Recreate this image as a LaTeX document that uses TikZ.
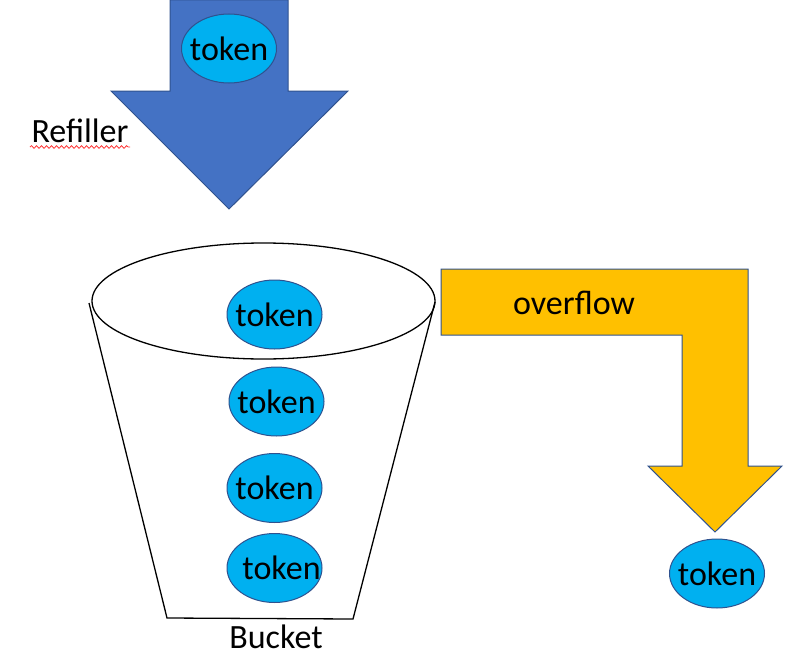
\documentclass[tikz,border=0pt]{standalone}
\usepackage{fontspec}
\setmainfont{Carlito}
\usetikzlibrary{positioning, shapes.geometric, decorations.pathmorphing}
\definecolor{refillblue}{HTML}{4472C4}
\definecolor{edgeblue}{HTML}{2F528F}
\definecolor{tokenblue}{HTML}{00B0F0}
\definecolor{overflowgold}{HTML}{FFC000}
\newcommand{\tokentext}[1][0pt]{\makebox[0pt]{\kern#1 token}}
\tikzset{
    token/.style={ellipse, draw=edgeblue, fill=tokenblue, line width=1pt, minimum width=95pt, minimum height=69pt, inner sep=0pt, font=\fontsize{34}{40}\selectfont}, % the blue tokens
    plain/.style={inner sep=0pt, font=\fontsize{34}{40}\selectfont},
    blockarrow/.style={draw=edgeblue, line width=1pt, line join=miter},
}

\begin{document}
\begin{tikzpicture}[x=1pt, y=-1pt, on grid]
    \useasboundingbox (0,0) rectangle (800,669);

    % Refiller
    \fill[refillblue, blockarrow] (170,0) -- (288,0) -- (288,91) -- (348,91) -- (229,209) -- (111,91) -- (170,91) -- cycle;
    \node[token] (tin) at (229,48.5) {\tokentext};
    \node[plain] (refill) at (80,131) {Refiller};
    \draw[red!80, line width=0.8pt, decorate, decoration={snake, amplitude=1.3pt, segment length=5pt}] (30,147) -- (130,147);

    % Bucket
    \draw[line width=1.3pt] (263.5,301) ellipse [x radius=171.5, y radius=58];
    \draw[line width=1.3pt] (89,303) -- (167,618) -- (353,619) -- (435,302);
    \node[token] (t1) at (274.5,314.5) {\tokentext};
    \node[token] (t2) [below=87pt of t1, xshift=2pt] {\tokentext};
    \node[token] (t3) [below=86.5pt of t2, xshift=-2pt] {\tokentext};
    \node[token] (t4) [below=80pt of t3] {\tokentext[14pt]};
    \node[plain] (bucket) at (276,637) {Bucket};

    % Overflow
    \fill[overflowgold, blockarrow] (441,269) -- (748,269) -- (748,466) -- (782,466) -- (715,532) -- (648,466) -- (682,466) -- (682,335) -- (441,335) -- cycle;
    \node[plain] (over) at (574,302.5) {overflow};
    \node[token] (tout) at (717,573.5) {\tokentext};
\end{tikzpicture}
\end{document}
